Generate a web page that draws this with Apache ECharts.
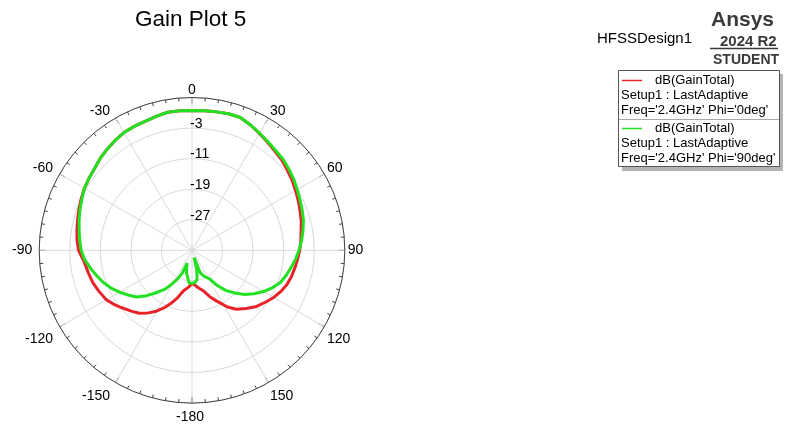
<!DOCTYPE html>
<html><head><meta charset="utf-8">
<script src="https://cdn.jsdelivr.net/npm/echarts@6/dist/echarts.min.js"></script>
<style>html,body{margin:0;padding:0;background:#fff}#c{width:793px;height:425px}</style>
</head><body><div id="c"></div>
<script>
// Theta (deg) and dB(GainTotal) for Phi = 0deg
const phi0Theta = [-180,-175,-168,-163,-159,-154,-149,-145,-140,-135,-129,-125,-120,-114,-108,-102,-96,-90,-85,-80,-75,-70,-65,-60,-55,-50,-45,-40,-35,-30,-25,-20,-15,-10,-5,0,5,10,15,20,25,30,35,40,45,50,55,60,65,70,75,80,85,90,95,99,105,110,115,120,125,131,137,143,148,154,159,164,170,175,180];
const phi0Gain  = [-26.3,-25.4,-24.1,-22.0,-20.3,-18.2,-16.3,-15.0,-13.5,-12.5,-11.2,-10.2,-9.1,-8.4,-7.7,-7.2,-6.6,-5.3,-4.8,-4.4,-4.0,-3.5,-3.0,-2.5,-2.1,-1.7,-1.0,-0.45,0.1,0.6,0.8,0.9,1.3,1.7,1.7,1.6,1.7,1.8,2.0,2.0,1.2,0.3,-0.5,-1.2,-1.7,-2.4,-3.0,-3.7,-4.3,-4.9,-5.4,-6.0,-6.4,-6.8,-7.3,-7.6,-8.1,-8.6,-9.4,-10.3,-11.4,-12.6,-14.2,-15.7,-17.5,-20.2,-22.0,-23.9,-25.0,-25.8,-26.3];
// Theta (deg) and dB(GainTotal) for Phi = 90deg
const phi90Theta = [-180,-175,-172,-166,-159,-157,-153,-149,-145,-139,-135,-130,-125,-121,-115,-110,-105,-100,-95,-90,-85,-80,-75,-70,-65,-60,-55,-50,-45,-40,-35,-30,-25,-20,-15,-10,-5,0,5,10,15,20,25,30,35,40,45,50,55,60,65,70,75,80,85,90,95,100,105,110,115,120,125,130,135,140,145,148,155,160,164,166,170,175,180];
const phi90Gain  = [-26.3,-26.4,-26.6,-29.0,-31.4,-28.5,-26.5,-24.6,-22.5,-20.1,-18.2,-16.0,-14.6,-13.4,-11.6,-10.3,-9.2,-8.0,-6.8,-6.0,-5.5,-5.0,-4.4,-3.8,-3.2,-2.5,-2.1,-1.7,-1.0,-0.45,0.1,0.6,0.8,0.9,1.3,1.7,1.7,1.6,1.7,1.8,2.0,2.0,1.2,0.4,-0.3,-0.9,-1.3,-1.9,-2.5,-3.2,-3.8,-4.3,-4.8,-5.5,-6.2,-7.0,-7.8,-8.7,-9.5,-10.4,-11.8,-13.4,-15.2,-17.0,-19.2,-21.3,-24.0,-26.1,-27.5,-28.8,-33.0,-30.0,-27.3,-26.5,-26.3];
const radiusTicks = [-27,-19,-11,-3];
const radiusMin = -35, radiusMax = 5, radiusStep = 8;
const angleStep = 30;
const seriesNames = ["dB(GainTotal) Phi='0deg'", "dB(GainTotal) Phi='90deg'"];

function toPolar(theta, gain){
  return theta.map((t,i)=>[gain[i], t < 0 ? t + 360 : t]);
}
function angleLabel(v){
  if (v >= 360) return '';
  const txt = String(v > 180 ? v - 360 : (v === 180 ? -180 : v));
  const top = (v < 90 || v > 270);
  const mid = (v === 90 || v === 270);
  const left = (v >= 180);
  const key = (top ? 't' : (mid ? 'm' : 'b')) + (left ? 'L' : 'R');
  return '{' + key + '|' + txt + '}';
}
const FONT = 'Liberation Sans, Arial, sans-serif';
const lab = (lh, pr) => ({fontFamily:FONT, fontSize:14, color:'#000', lineHeight:lh, padding:[0,pr,0,0]});
const chart = echarts.init(document.getElementById('c'), null, {renderer:'canvas'});
chart.setOption({
  animation:false,
  backgroundColor:'#fff',
  title:{text:'Gain Plot 5', left:135, top:8, padding:0,
    textStyle:{fontFamily:FONT, fontSize:22.5, fontWeight:'normal', color:'#000'}},
  polar:{center:[192,250.3], radius:152.8},
  angleAxis:{
    type:'value', min:0, max:360, interval:angleStep, startAngle:90, clockwise:true,
    axisLine:{lineStyle:{color:'#444', width:1}},
    axisTick:{show:true, inside:true, length:6, lineStyle:{color:'#444'}},
    minorTick:{show:true, splitNumber:6, length:3.5, lineStyle:{color:'#444'}},
    splitLine:{show:true, lineStyle:{color:'#d9d9d9', width:1}},
    axisLabel:{margin:3, fontFamily:FONT, fontSize:14, color:'#000',
      formatter:angleLabel,
      rich:{tR:lab(8,0), tL:lab(8,4), mR:lab(16,0), mL:lab(16,4), bR:lab(22,0), bL:lab(22,4)}}
  },
  radiusAxis:{
    type:'value', min:radiusMin, max:radiusMax, interval:radiusStep,
    axisLine:{show:false}, axisTick:{show:false},
    splitLine:{show:true, lineStyle:{color:'#d9d9d9', width:1}},
    axisLabel:{margin:2, align:'left', verticalAlign:'bottom', lineHeight:8, fontFamily:FONT, fontSize:14, color:'#000',
      formatter:v=> radiusTicks.includes(v) ? String(v) : ''}
  },
  series:[
    {name:seriesNames[0], type:'line', coordinateSystem:'polar', data:toPolar(phi0Theta, phi0Gain),
      showSymbol:false, smooth:false, lineStyle:{color:'#e8242a', width:3}, z:3},
    {name:seriesNames[1], type:'line', coordinateSystem:'polar', data:toPolar(phi90Theta, phi90Gain),
      showSymbol:false, smooth:false, lineStyle:{color:'#22e022', width:3}, z:4}
  ],
  graphic:[
    {type:'text', left:597, top:31, style:{text:'HFSSDesign1', font:'15px '+FONT, fill:'#000'}},
    {type:'text', left:711, top:10, style:{text:'Ansys', font:'bold 21px '+FONT, fill:'#3a3a3a'}},
    {type:'text', left:720, top:34, style:{text:'2024 R2', font:'bold 15px '+FONT, fill:'#3a3a3a'}},
    {type:'line', shape:{x1:710, y1:48.5, x2:778, y2:48.5}, style:{stroke:'#3a3a3a', lineWidth:1.5}},
    {type:'text', left:713, top:53, style:{text:'STUDENT', font:'bold 14px '+FONT, fill:'#3a3a3a'}},
    {type:'rect', shape:{x:622, y:74, width:161, height:97}, style:{fill:'#b4b4b4'}, z:1},
    {type:'rect', shape:{x:618.5, y:70.5, width:161, height:96}, style:{fill:'#fff', stroke:'#555', lineWidth:1}, z:2},
    {type:'line', shape:{x1:619, y1:119.5, x2:779, y2:119.5}, style:{stroke:'#aaa', lineWidth:1}, z:3},
    {type:'line', shape:{x1:622, y1:80.5, x2:642, y2:80.5}, style:{stroke:'#e8242a', lineWidth:1.5}, z:3},
    {type:'text', left:655, top:74, style:{text:'dB(GainTotal)', font:'13px '+FONT, fill:'#000'}, z:3},
    {type:'text', left:621, top:89, style:{text:'Setup1 : LastAdaptive', font:'13px '+FONT, fill:'#000'}, z:3},
    {type:'text', left:621, top:104, style:{text:"Freq='2.4GHz' Phi='0deg'", font:'13px '+FONT, fill:'#000'}, z:3},
    {type:'line', shape:{x1:622, y1:128.5, x2:642, y2:128.5}, style:{stroke:'#22e022', lineWidth:1.5}, z:3},
    {type:'text', left:655, top:122, style:{text:'dB(GainTotal)', font:'13px '+FONT, fill:'#000'}, z:3},
    {type:'text', left:621, top:137, style:{text:'Setup1 : LastAdaptive', font:'13px '+FONT, fill:'#000'}, z:3},
    {type:'text', left:621, top:152, style:{text:"Freq='2.4GHz' Phi='90deg'", font:'13px '+FONT, fill:'#000'}, z:3}
  ]
});
</script></body></html>
